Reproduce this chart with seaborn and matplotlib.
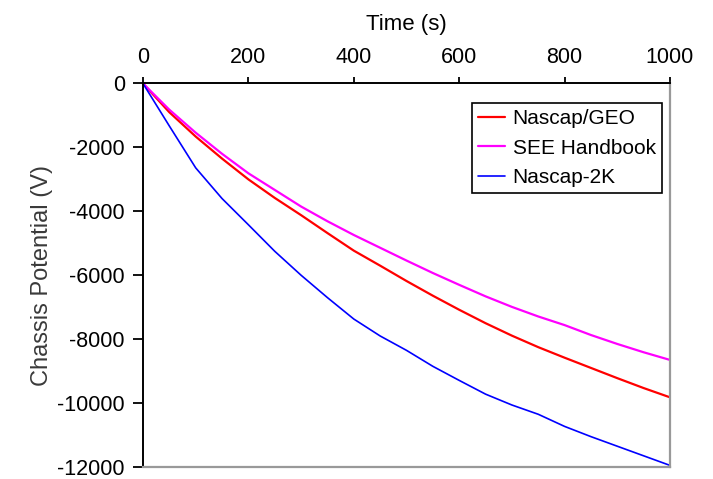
import matplotlib
matplotlib.use("Agg")
import matplotlib.pyplot as plt
import numpy as np
import pandas as pd
import seaborn as sns

time_s = [0, 50, 100, 150, 200, 250, 300, 350, 400, 450, 500,
          550, 600, 650, 700, 750, 800, 850, 900, 950, 1000]
nascap_geo = [0, -900, -1660, -2350, -3000, -3580, -4120, -4680, -5230, -5700, -6180,
              -6640, -7080, -7500, -7890, -8250, -8580, -8900, -9220, -9530, -9820]
see_handbook = [0, -820, -1540, -2200, -2810, -3330, -3850, -4310, -4740, -5140, -5540,
                -5930, -6300, -6660, -6990, -7290, -7560, -7870, -8150, -8410, -8650]
nascap_2k = [0, -1330, -2640, -3600, -4420, -5250, -6000, -6700, -7370, -7900, -8350,
             -8850, -9290, -9720, -10060, -10350, -10730, -11050, -11350, -11650, -11950]

series_names = ["Nascap/GEO", "SEE Handbook", "Nascap-2K"]
series_colors = {"Nascap/GEO": "#ff0000", "SEE Handbook": "#ff00ff", "Nascap-2K": "#0000ff"}
series_widths = {"Nascap/GEO": 1.6, "SEE Handbook": 1.6, "Nascap-2K": 1.2}
x_ticks = [0, 200, 400, 600, 800, 1000]
y_ticks = [0, -2000, -4000, -6000, -8000, -10000, -12000]

df = pd.DataFrame({
    "Time": time_s * 3,
    "Potential": nascap_geo + see_handbook + nascap_2k,
    "Series": [s for s in series_names for _ in time_s],
})

sns.set_theme(style="ticks")
plt.rcParams["font.family"] = ["Liberation Sans", "DejaVu Sans"]

fig = plt.figure(figsize=(7.13, 4.79), dpi=100)
ax = fig.add_axes([143 / 713, 1 - 467 / 479, 527 / 713, 383.5 / 479])

for name in series_names:
    sub = df[df["Series"] == name]
    sns.lineplot(data=sub, x="Time", y="Potential", color=series_colors[name],
                 linewidth=series_widths[name], label=name, ax=ax)

ax.set_xlim(0, 1000)
ax.set_ylim(-12000, 0)
ax.set_xticks(x_ticks)
ax.set_yticks(y_ticks)
ax.set_xticklabels([str(v) for v in x_ticks])
ax.set_yticklabels([str(v) for v in y_ticks])
ax.xaxis.tick_top()
ax.xaxis.set_label_position("top")
ax.set_xlabel("Time (s)", fontsize=16, color="black", labelpad=12)
ax.set_ylabel("Chassis Potential (V)", fontsize=17, color="#3a3a3a", labelpad=3)

ax.tick_params(axis="both", direction="out", width=1.3, color="black",
               labelsize=15.5, labelcolor="black")
ax.tick_params(axis="x", length=4.5, pad=7)
ax.tick_params(axis="y", length=7, pad=6)

for side in ["left", "top"]:
    ax.spines[side].set_color("black")
    ax.spines[side].set_linewidth(1.4)
for side in ["right", "bottom"]:
    ax.spines[side].set_color("#999999")
    ax.spines[side].set_linewidth(1.6)
    ax.spines[side].set_visible(True)

leg = ax.legend(loc="upper right", bbox_to_anchor=(0.985, 0.949), fontsize=15,
                frameon=True, fancybox=False, edgecolor="black", framealpha=1,
                handlelength=1.3, handletextpad=0.35, labelspacing=0.5,
                borderpad=0.3, borderaxespad=0)
leg.get_frame().set_linewidth(1.2)
for t in leg.get_texts():
    t.set_color("black")

fig.savefig("out.png", dpi=100)
